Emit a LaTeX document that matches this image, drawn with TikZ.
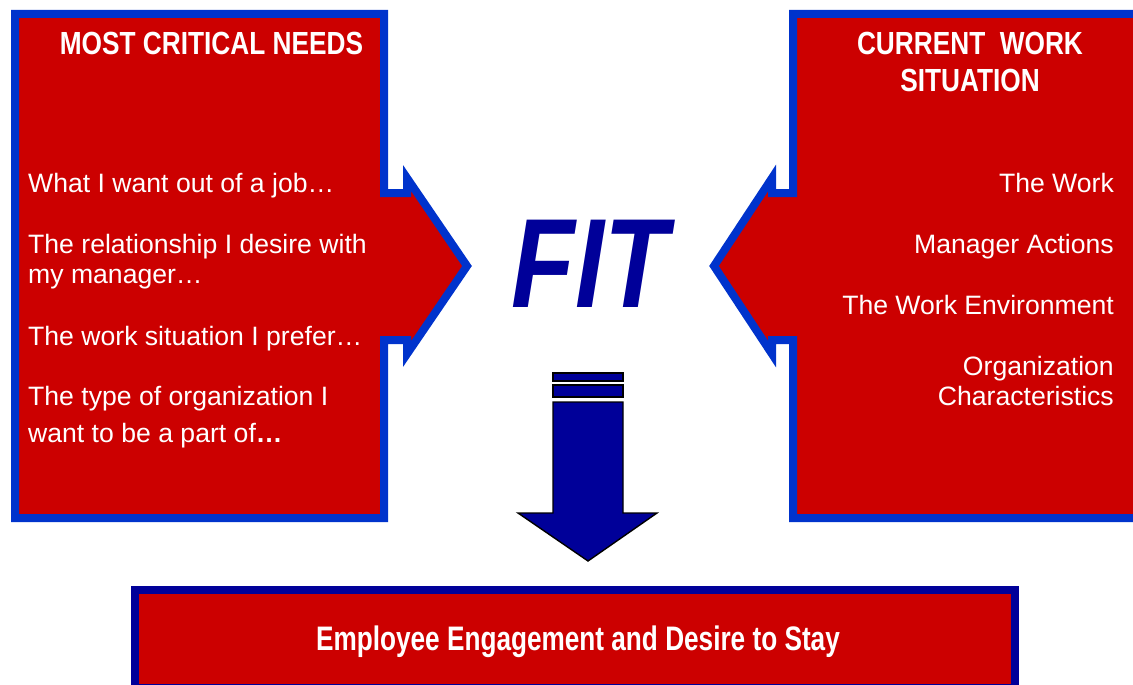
\documentclass[tikz,border=0pt]{standalone}
\usepackage{fontspec}
\setmainfont{Liberation Sans}
\newfontfamily\narrowfont[FakeStretch=0.82]{Liberation Sans}
\newfontfamily\bannerfont[FakeStretch=0.77]{Liberation Sans}
\definecolor{boxred}{HTML}{CC0000}
\definecolor{rimblue}{HTML}{0033CC}
\definecolor{navy}{HTML}{000099}

\begin{document}
\begin{tikzpicture}[x=1pt,y=-1pt,
  panel/.style={fill=boxred,draw=rimblue,line width=8pt,line join=miter,miter limit=30},
  resultbox/.style={fill=boxred,draw=navy,line width=8pt},
  stripe/.style={fill=navy,draw=black,line width=1.4pt,line join=miter},
  body/.style={text=white,inner sep=0pt,font=\fontsize{26.6}{30}\selectfont},
  leftline/.style={body,anchor=base west},
  rightline/.style={body,anchor=base east},
  heading/.style={text=white,inner sep=0pt,anchor=base,font=\narrowfont\bfseries\fontsize{32}{36}\selectfont},
  fitword/.style={text=navy,inner sep=0pt,anchor=base,font=\narrowfont\bfseries\itshape\fontsize{127}{127}\selectfont},
  banner/.style={text=white,inner sep=0pt,anchor=base,font=\bannerfont\bfseries\fontsize{34}{38}\selectfont}
]
\clip (0,0) rectangle (1133,685);

% left panel with its arrow pointing right
\draw[panel] (15,14) -- (384,14) -- (384,193) -- (407,193) -- (407,178)
  -- (467,266) -- (407,354) -- (407,340) -- (384,340) -- (384,518)
  -- (15,518) -- cycle;

% right panel with its arrow pointing left (runs off the right edge)
\draw[panel] (1150,14) -- (793,14) -- (793,193) -- (772,193) -- (772,178)
  -- (714,266) -- (772,354) -- (772,340) -- (793,340) -- (793,518)
  -- (1150,518) -- cycle;

% result box at the bottom
\draw[resultbox] (135,590) rectangle (1015,688);

% striped down arrow
\draw[stripe] (553,373) rectangle (623,381);
\draw[stripe] (553,385) rectangle (623,397);
\draw[stripe] (553,402) -- (623,402) -- (623,513) -- (657,513) -- (588,561)
  -- (518,513) -- (553,513) -- cycle;

% headings
\node[heading] (needsT) at (211.5,55) {MOST CRITICAL NEEDS};
\node[heading] (workT1) at (970,55) {CURRENT\ \ WORK};
\node[heading] (workT2) at (970,92) {SITUATION};

% left list
\node[leftline] (n1)  at (28,192) {What I want out of a job…};
\node[leftline] (n2)  at (28,253) {The relationship I desire with};
\node[leftline] (n2b) at (28,283) {my manager…};
\node[leftline] (n3)  at (28,345) {The work situation I prefer…};
\node[leftline] (n4)  at (28,405) {The type of organization I};
\node[leftline] (n4b) at (28,442) {want to be a part of\textbf{…}};

% right list
\node[rightline] (w1)  at (1114,192) {The Work};
\node[rightline] (w2)  at (1114,253) {Manager Actions};
\node[rightline] (w3)  at (1114,314) {The Work Environment};
\node[rightline] (w4)  at (1114,375) {Organization};
\node[rightline] (w4b) at (1114,405) {Characteristics};

% centre word
\node[fitword] (fit) at (590,307) {FIT};

% outcome
\node[banner] (outcome) at (578,650) {Employee Engagement and Desire to Stay};
\end{tikzpicture}
\end{document}
